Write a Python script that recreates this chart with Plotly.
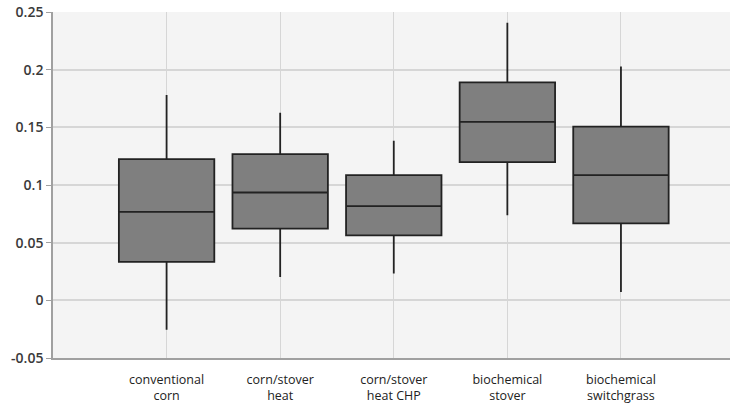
import plotly.graph_objects as go

categories = ["conventional<br>corn", "corn/stover<br>heat", "corn/stover<br>heat CHP",
              "biochemical<br>stover", "biochemical<br>switchgrass"]
positions = [1, 2, 3, 4, 5]
lower_whisker = [-0.0255, 0.0202, 0.0232, 0.0738, 0.0072]
q1_vals = [0.0333, 0.0622, 0.0564, 0.1198, 0.0668]
median_vals = [0.0767, 0.0935, 0.0816, 0.1548, 0.1085]
q3_vals = [0.1224, 0.1267, 0.1085, 0.1890, 0.1507]
upper_whisker = [0.1780, 0.1626, 0.1383, 0.2407, 0.2028]
y_tickvals = [-0.05, 0, 0.05, 0.1, 0.15, 0.2, 0.25]
y_ticktext = ["-0.05", "0", "0.05", "0.1", "0.15", "0.2", "0.25"]

fig = go.Figure()
fig.add_trace(go.Box(
    x=positions,
    q1=q1_vals,
    median=median_vals,
    q3=q3_vals,
    lowerfence=lower_whisker,
    upperfence=upper_whisker,
    width=0.84,
    whiskerwidth=0,
    fillcolor="#7f7f7f",
    line=dict(color="#222222", width=1.8),
    boxpoints=False,
    showlegend=False,
))

fig.update_layout(
    width=730, height=406,
    margin=dict(l=53, r=0, t=12, b=48, autoexpand=False),
    paper_bgcolor="white",
    plot_bgcolor="#f4f4f4",
    font=dict(family="Open Sans", color="#222222"),
    xaxis=dict(
        range=[0, 5.96],
        tickvals=positions,
        ticktext=categories,
        showgrid=True, gridcolor="#d6d6d6", gridwidth=1,
        showline=True, linecolor="#a0a0a0", linewidth=1.5,
        ticks="", zeroline=False, automargin=False,
        ticklabelstandoff=9,
        tickfont=dict(size=12.5, color="#222222"),
    ),
    yaxis=dict(
        range=[-0.05, 0.25],
        tickvals=y_tickvals,
        ticktext=y_ticktext,
        showgrid=True, gridcolor="#d6d6d6", gridwidth=1.5,
        showline=True, linecolor="#a0a0a0", linewidth=1.5,
        ticks="outside", ticklen=5, tickcolor="#a0a0a0",
        zeroline=False, automargin=False,
        tickfont=dict(size=14, color="#3a3a3a", weight=600),
    ),
)

fig.write_html(
    "out.html",
    config={"displayModeBar": False},
    post_script="document.body.style.margin='0';document.body.style.overflow='hidden';",
)
